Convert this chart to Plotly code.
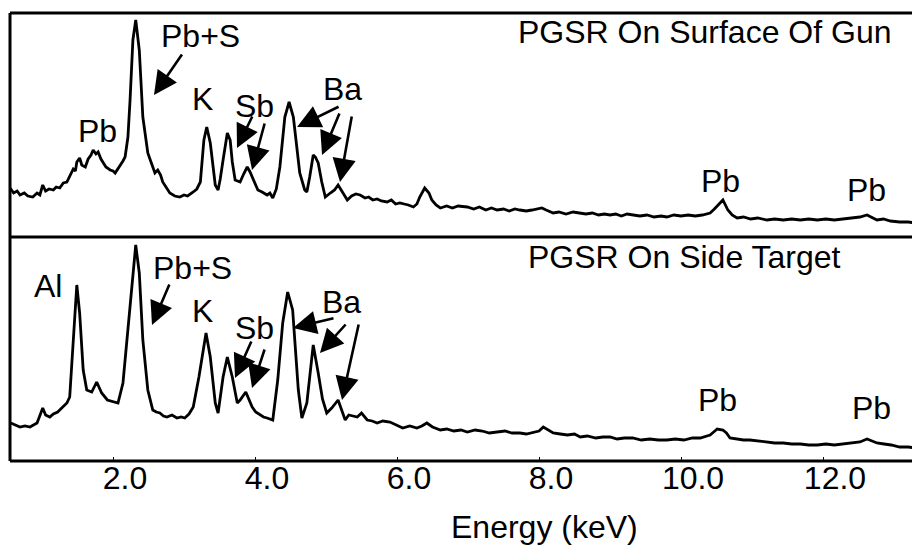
import plotly.graph_objects as go

# ---- data (energy in keV, intensity in arbitrary units) ----
top_energy = [0.55,0.60,0.65,0.69,0.75,0.80,0.87,0.93,0.97,1.01,1.05,1.10,1.16,1.20,1.25,1.30,1.35,1.40,1.44,1.47,
              1.49,1.53,1.56,1.61,1.65,1.69,1.72,1.76,1.79,1.83,1.86,1.90,1.96,2.00,2.03,2.07,2.10,2.14,2.17,2.21,
              2.24,2.28,2.32,2.37,2.42,2.46,2.49,2.55,2.59,2.63,2.67,2.70,2.75,2.80,2.87,2.94,3.00,3.05,3.13,3.18,
              3.23,3.28,3.32,3.37,3.41,3.44,3.48,3.51,3.55,3.61,3.65,3.68,3.72,3.79,3.84,3.89,3.93,3.96,4.00,4.04,
              4.10,4.17,4.21,4.25,4.30,4.35,4.42,4.48,4.54,4.59,4.63,4.70,4.73,4.77,4.82,4.85,4.89,4.94,4.99,5.06,
              5.12,5.17,5.22,5.30,5.36,5.42,5.48,5.55,5.60,5.66,5.72,5.78,5.86,5.92,5.98,6.04,6.10,6.16,6.23,6.28,
              6.32,6.39,6.45,6.49,6.55,6.61,6.70,6.78,6.86,6.99,7.08,7.16,7.25,7.33,7.41,7.50,7.58,7.66,7.73,7.82,
              7.90,7.97,8.04,8.10,8.20,8.28,8.38,8.48,8.58,8.66,8.75,8.84,8.92,9.00,9.08,9.16,9.24,9.32,9.42,9.52,
              9.62,9.72,9.80,9.90,10.00,10.10,10.20,10.30,10.41,10.47,10.52,10.59,10.66,10.72,10.79,10.88,10.98,11.08,11.21,11.32,
              11.44,11.56,11.68,11.80,11.92,12.04,12.16,12.28,12.42,12.52,12.62,12.68,12.76,12.85,12.95,13.08,13.20,13.30,13.37]
top_counts = [49,44,46,42,44,41,40,44,42,52,46,48,47,50,49,54,55,62,68,66,
              75,79,72,70,78,82,87,83,85,78,74,70,67,66,64,68,72,76,80,100,
              137,197,217,187,120,100,84,72,64,67,62,55,49,44,41,40,42,41,45,48,
              55,97,110,94,70,52,47,58,77,104,97,75,57,55,63,70,65,60,52,47,
              45,42,44,39,48,70,120,135,120,90,64,47,45,60,82,80,74,55,40,44,
              47,52,46,37,41,43,42,39,40,37,38,36,35,37,33,34,33,32,30,33,
              40,49,44,37,32,29,31,29,31,30,28,30,27,29,27,28,26,28,27,26,
              27,28,29,27,24,25,23,25,24,23,24,22,23,22,23,21,23,22,21,22,
              20,21,20,22,21,22,21,22,24,28,32,37,27,22,19,20,18,19,17,18,
              17,18,17,18,17,18,17,18,19,20,22,20,17,18,16,15,15,14,14]

bottom_energy = [0.56,0.62,0.69,0.76,0.83,0.88,0.93,1.01,1.05,1.11,1.16,1.22,1.26,1.31,1.35,1.39,1.44,1.49,1.53,1.58,
                 1.63,1.70,1.77,1.84,1.92,2.00,2.07,2.14,2.21,2.28,2.32,2.37,2.42,2.49,2.56,2.61,2.66,2.71,2.76,2.83,
                 2.90,2.96,3.01,3.07,3.13,3.21,3.31,3.37,3.44,3.48,3.55,3.61,3.68,3.75,3.79,3.87,3.96,4.01,4.07,4.12,
                 4.17,4.25,4.32,4.39,4.46,4.53,4.61,4.66,4.73,4.82,4.89,4.95,5.01,5.08,5.17,5.27,5.32,5.37,5.44,5.50,
                 5.58,5.65,5.72,5.80,5.90,5.99,6.08,6.18,6.28,6.35,6.42,6.50,6.61,6.70,6.80,6.90,6.99,7.10,7.20,7.30,
                 7.41,7.52,7.62,7.73,7.82,7.92,8.00,8.06,8.13,8.20,8.30,8.40,8.50,8.58,8.68,8.80,8.90,9.00,9.10,9.20,
                 9.32,9.44,9.56,9.68,9.80,9.92,10.04,10.16,10.27,10.36,10.41,10.46,10.51,10.59,10.64,10.69,10.78,10.88,10.97,11.08,
                 11.20,11.32,11.44,11.56,11.68,11.80,11.92,12.04,12.16,12.28,12.42,12.52,12.62,12.70,12.76,12.86,12.96,13.08,13.20,13.30,13.37]
bottom_counts = [38,36,34,35,34,36,38,53,46,44,47,49,52,55,58,64,121,176,148,91,
                 71,69,79,68,61,59,58,78,131,191,216,188,121,71,51,49,48,45,44,46,
                 43,44,43,47,54,84,128,104,58,48,84,104,84,58,61,69,54,49,46,44,
                 43,41,81,138,169,151,71,43,58,116,88,62,48,53,61,41,46,45,44,48,
                 41,40,38,40,39,36,33,35,33,35,38,34,31,32,30,31,29,31,30,28,
                 29,30,28,28,27,29,30,34,31,28,27,26,27,24,25,23,24,24,22,23,
                 23,21,22,21,21,22,21,23,23,25,26,29,32,31,28,23,22,21,21,20,
                 19,18,18,17,17,16,16,17,16,17,18,19,22,20,18,17,16,14,14,13,13]

tick_vals = [2, 4, 6, 8, 10, 12]
tick_text = ["2.0", "4.0", "6.0", "8.0", "10.0", "12.0"]

top_title = "PGSR On Surface Of Gun"
bottom_title = "PGSR On Side Target"
x_title = "Energy (keV)"

# element labels: (text, energy, intensity)
top_labels = [("Pb", 1.775, 106), ("Pb+S", 3.239, 201), ("K", 3.254, 138), ("Sb", 3.986, 131),
              ("Ba", 5.239, 148), ("Pb", 10.563, 56), ("Pb", 12.606, 47)]
bottom_labels = [("Al", 1.085, 175), ("Pb+S", 3.113, 193), ("K", 3.254, 150), ("Sb", 3.986, 133),
                 ("Ba", 5.211, 159), ("Pb", 10.507, 61), ("Pb", 12.676, 53)]
# arrows: (tip energy, tip intensity, tail dx px, tail dy px)
top_arrows = [(2.577, 142, 29, -42), (3.746, 89, 16, -33), (3.958, 67, 13, -48),
              (4.592, 110, 43, -21), (4.944, 82, 18, -43), (5.197, 55, 12, -67)]
bottom_arrows = [(2.549, 136, 18, -42), (3.718, 83, 17, -38), (3.958, 73, 13, -40),
                 (4.535, 133, 42, -10), (4.915, 108, 27, -30), (5.225, 61, 17, -77)]

FONT = "Liberation Sans, Arial, sans-serif"
XR = [0.549, 13.366]
FS = 32

fig = go.Figure()
fig.add_trace(go.Scatter(x=top_energy, y=top_counts, mode="lines", xaxis="x2", yaxis="y2",
                         line=dict(color="black", width=2.8), showlegend=False))
fig.add_trace(go.Scatter(x=bottom_energy, y=bottom_counts, mode="lines", xaxis="x", yaxis="y",
                         line=dict(color="black", width=2.8), showlegend=False))

ann = []
for (t, xx, yy) in top_labels:
    ann.append(dict(text=t, x=xx, y=yy, xref="x2", yref="y2", showarrow=False,
                    font=dict(size=FS, color="black", family=FONT)))
for (t, xx, yy) in bottom_labels:
    ann.append(dict(text=t, x=xx, y=yy, xref="x", yref="y", showarrow=False,
                    font=dict(size=FS, color="black", family=FONT)))
for (xx, yy, dx, dy) in top_arrows:
    ann.append(dict(text="", x=xx, y=yy, xref="x2", yref="y2", ax=dx, ay=dy, showarrow=True,
                    arrowhead=2, arrowsize=1.8, arrowwidth=2.6, arrowcolor="black", standoff=0))
for (xx, yy, dx, dy) in bottom_arrows:
    ann.append(dict(text="", x=xx, y=yy, xref="x", yref="y", ax=dx, ay=dy, showarrow=True,
                    arrowhead=2, arrowsize=1.8, arrowwidth=2.6, arrowcolor="black", standoff=0))
ann.append(dict(text=top_title, x=12.986, y=205, xref="x2", yref="y2", xanchor="right", showarrow=False,
                font=dict(size=FS, color="black", family=FONT)))
ann.append(dict(text=bottom_title, x=12.282, y=204, xref="x", yref="y", xanchor="right", showarrow=False,
                font=dict(size=FS, color="black", family=FONT)))
ann.append(dict(text=x_title, x=0.587, y=-0.147, xref="paper", yref="paper", xanchor="center",
                yanchor="middle", showarrow=False, font=dict(size=FS, color="black", family=FONT)))

shapes = [
    dict(type="line", xref="paper", yref="paper", x0=0, x1=0, y0=0, y1=1, line=dict(color="black", width=3)),
    dict(type="line", xref="paper", yref="paper", x0=0, x1=1.01, y0=1, y1=1, line=dict(color="black", width=3)),
    dict(type="line", xref="paper", yref="paper", x0=0, x1=1.01, y0=0.5, y1=0.5, line=dict(color="black", width=3)),
    dict(type="line", xref="paper", yref="paper", x0=0, x1=1.01, y0=0, y1=0, line=dict(color="black", width=3)),
]

# page body has an 8px margin, so the figure is 8px smaller on each axis
fig.update_layout(
    width=912, height=538,
    margin=dict(l=2, r=0, t=5, b=85),
    paper_bgcolor="white", plot_bgcolor="white",
    xaxis=dict(domain=[0, 1], range=XR, anchor="y", tickvals=tick_vals, ticktext=tick_text,
               ticks="inside", ticklen=4, tickwidth=1, tickcolor="black", showgrid=False, zeroline=False,
               showline=False, ticklabelshift=12, ticklabelstandoff=-5,
               tickfont=dict(size=FS, color="black", family=FONT)),
    yaxis=dict(domain=[0, 0.5], range=[0, 224], visible=False),
    xaxis2=dict(domain=[0, 1], range=XR, anchor="y2", matches="x", showticklabels=False, ticks="",
                showgrid=False, zeroline=False, showline=False),
    yaxis2=dict(domain=[0.5, 1], range=[0, 224], visible=False),
    annotations=ann, shapes=shapes,
)

fig.write_html("out.html")
